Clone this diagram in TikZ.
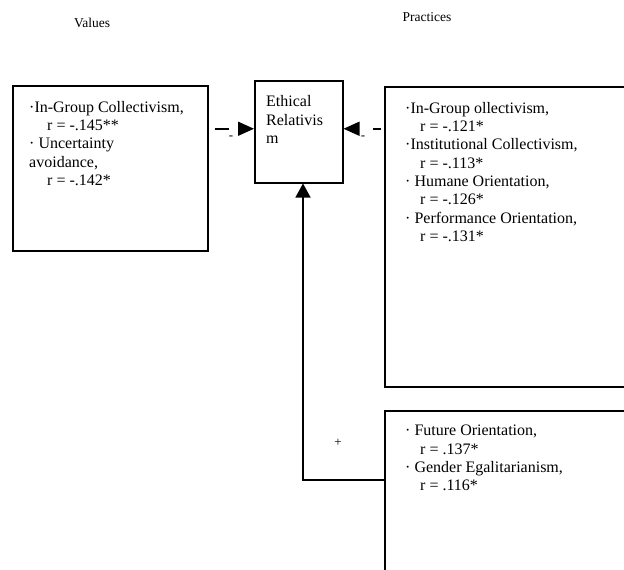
\documentclass[tikz,border=0pt]{standalone}
\usepackage{fontspec}
\setmainfont{Liberation Serif}
\usepackage{tikz}
\usetikzlibrary{arrows.meta}
\usetikzlibrary{positioning}
\tikzset{
box/.style = { rectangle, draw = black, fill = white, line width = 1.5pt, anchor = north west, inner sep = 0pt },
box text/.style = { anchor = north west, inner sep = 0pt, align = left, font = \fontsize{16}{18.3}\selectfont },
head text/.style = { inner sep = 0pt, font = \fontsize{13.5}{16}\selectfont },
sign/.style = { inner sep = 0pt, font = \fontsize{13}{15}\selectfont },
neg link/.style = { line width = 1.5pt, -{Triangle[length = 16pt, width = 14pt]} },
pos link/.style = { line width = 1.4pt, -{Triangle[length = 14pt, width = 15pt]} },
}

\begin{document}
\begin{tikzpicture}[x = 1pt, y = -1pt]
      \useasboundingbox (0, 0) rectangle (624, 570);
      \clip (0, 0) rectangle (624, 570);
      \node[head text] (values) at (92, 23) {Values};
      \node[head text] (practices) at (427, 17) {Practices};
      % boxes
      \node[box, minimum width = 195pt, minimum height = 165pt] (vbox) at (12, 85) {};
      \node[box, minimum width = 88pt, minimum height = 102pt] (erbox) at (254, 80) {};
      \node[box, minimum width = 260pt, minimum height = 300pt] (pbox) at (384, 86) {};
      \node[box, minimum width = 260pt, minimum height = 200pt] (fbox) at (384, 410) {};
      % texts
      \node[box text, below right = 16pt and 17pt of vbox.north west] (vtext)
        {·In-Group Collectivism,\\\hspace*{18pt}r = -.145**\\· Uncertainty\\avoidance,\\\hspace*{18pt}r = -.142*};
      \node[box text, below right = 15pt and 12pt of erbox.north west, font = \fontsize{16}{18.8}\selectfont] (ertext)
        {Ethical\\Relativis\\m};
      \node[box text, below right = 16pt and 21pt of pbox.north west] (ptext)
        {·In-Group ollectivism,\\\hspace*{15pt}r = -.121*\\·Institutional Collectivism,\\\hspace*{15pt}r = -.113*\\· Humane Orientation,\\\hspace*{15pt}r = -.126*\\· Performance Orientation,\\\hspace*{15pt}r = -.131*};
      \node[box text, below right = 15pt and 21pt of fbox.north west] (ftext)
        {· Future Orientation,\\\hspace*{15pt}r = .137*\\· Gender Egalitarianism,\\\hspace*{15pt}r = .116*};
      % links
      \draw[neg link, shorten <= 6pt, dash pattern = on 14pt off 30pt] ([yshift = 3pt]erbox.west -| vbox.east) -- ([yshift = 3pt]erbox.west);
      \draw[neg link, shorten <= 3pt, dash pattern = on 8pt off 30pt] ([yshift = 3pt]erbox.east -| pbox.west) -- ([yshift = 3pt]erbox.east);
      \node[sign] (vsign) at (231, 138) {-};
      \node[sign] (psign) at (363, 138) {-};
      \coordinate (elbow) at (303, 480);
      \draw[pos link] (elbow -| fbox.west) -- (elbow) -- (elbow |- erbox.south);
      \node[sign] (fsign) at (338, 443) {+};
    \end{tikzpicture}
\end{document}
